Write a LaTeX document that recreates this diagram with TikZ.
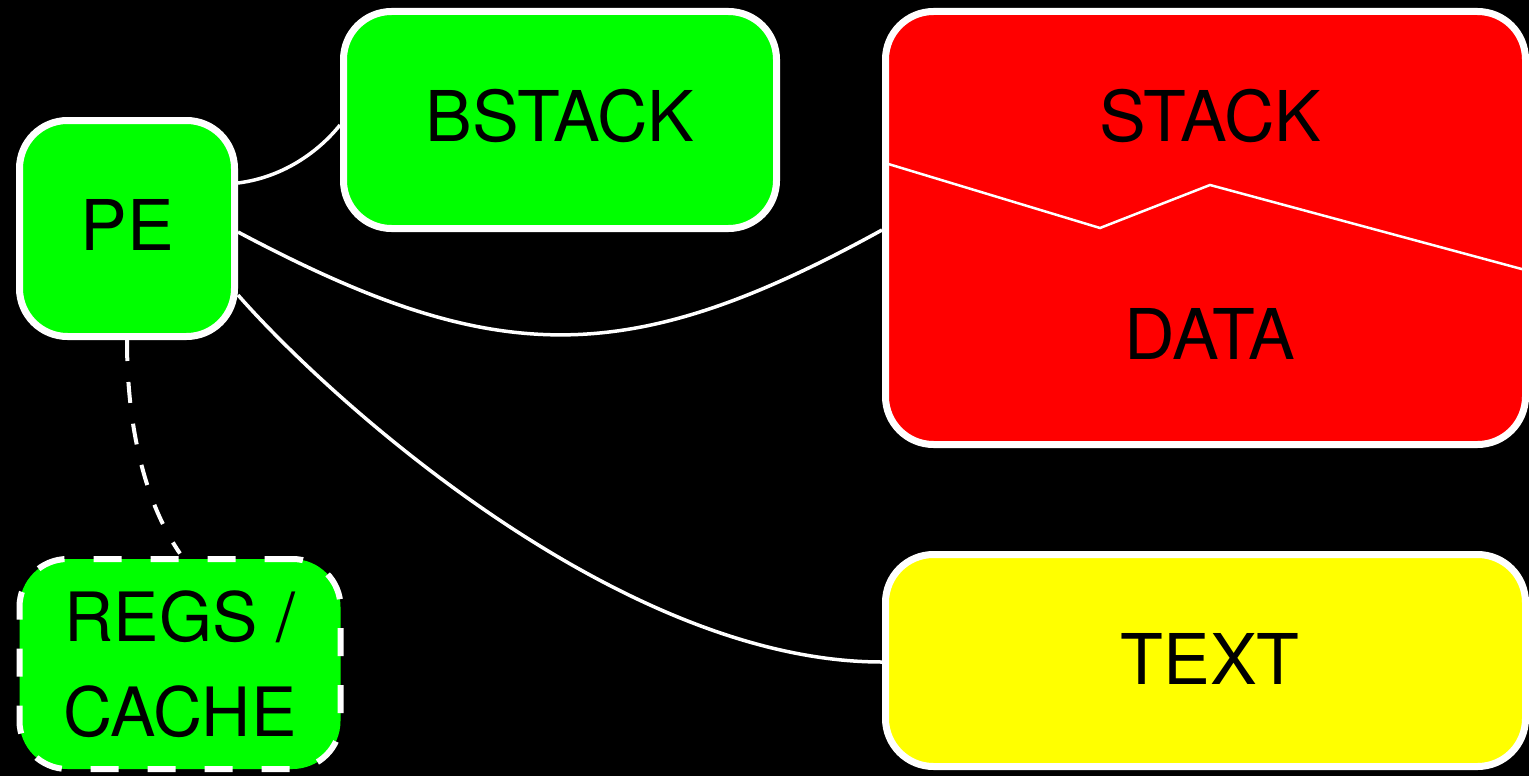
\documentclass[tikz,border=0pt]{standalone}
\usepackage{fontspec}
\setmainfont{TeX Gyre Heros}
\usetikzlibrary{calc}
\definecolor{boxgreen}{RGB}{0,255,0}
\definecolor{boxred}{RGB}{255,0,0}
\definecolor{boxyellow}{RGB}{255,255,0}
\begin{document}
\begin{tikzpicture}[x=1pt,y=-1pt,
  box/.style={draw=white, line width=7pt, rounded corners=48pt, inner sep=0pt,
    font=\fontsize{70}{84}\selectfont, text height=50pt, text depth=0pt, text=black},
  lbl/.style={font=\fontsize{70}{84}\selectfont, text=black, inner sep=0pt,
    text height=50pt, text depth=0pt},
  conn/.style={draw=white, line width=3.5pt},
  dconn/.style={draw=white, line width=4pt, dash pattern=on 21pt off 21pt},
  zig/.style={draw=white, line width=2.5pt}]
\fill[black] (0,0) rectangle (1529,776);
\useasboundingbox (0,0) rectangle (1529,776);

\node[box, fill=boxgreen, minimum width=215pt, minimum height=216pt, text depth=6pt] (pe) at (127,228.5) {PE};
\node[box, fill=boxgreen, minimum width=433pt, minimum height=217pt, text depth=8pt] (bstack) at (560,120) {BSTACK};
\node[box, fill=boxred, minimum width=640pt, minimum height=433pt] (red) at (1205.5,228) {};
\node[box, fill=boxyellow, minimum width=640pt, minimum height=212pt, text depth=3pt] (text) at (1205.5,660.5) {\hspace{9pt}TEXT};
\node[box, fill=boxgreen, minimum width=321pt, minimum height=210pt, line width=6pt,
      dash pattern=on 28pt off 29pt, align=center, text height=, text depth=,
      font=\fontsize{68}{95}\selectfont] (regs) at (180,664) {REGS /\\CACHE};

\node[lbl] (stack) at (1210,116.5) {STACK};
\node[lbl] (data) at (1210,334) {DATA};

\coordinate (z1) at (885,163);
\coordinate (z2) at (1100,228);
\coordinate (z3) at (1210,185);
\coordinate (z4) at (1529,271);
\draw[zig] (z1) -- (z2) -- (z3) -- (z4);

\draw[conn] ([yshift=45.5pt]pe.east) .. controls (285,177) and (320,150) .. ([yshift=-5pt]bstack.west);
\draw[conn] ([yshift=-3.5pt]pe.east) .. controls (494,368) and (626,371) .. ([yshift=-2pt]red.west);
\draw[conn] ([yshift=-66.5pt]pe.east) .. controls (330,400) and (620,662) .. ([yshift=-1.5pt]text.west);
\draw[dconn] (pe.south) .. controls (127,440) and (150,510) .. ([yshift=2.5pt]regs.north);
\end{tikzpicture}
\end{document}
